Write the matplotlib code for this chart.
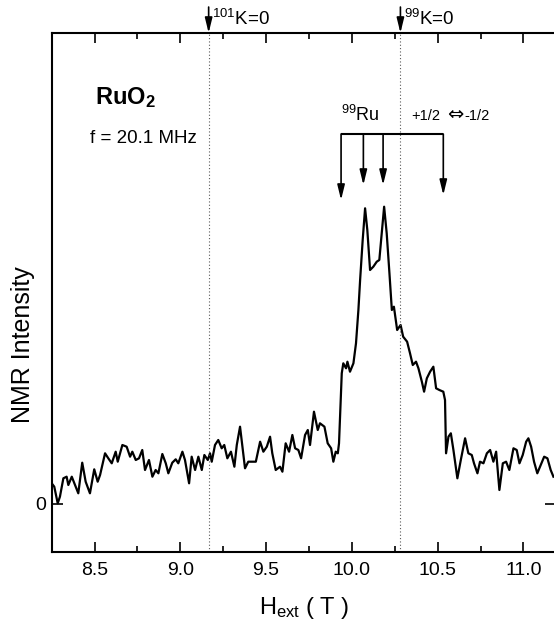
import matplotlib
matplotlib.use("Agg")
import matplotlib.pyplot as plt
from matplotlib.ticker import MultipleLocator, FixedLocator, FormatStrFormatter

plt.rcParams["font.family"] = ["Liberation Sans", "DejaVu Sans"]
plt.rcParams["mathtext.fontset"] = "custom"
plt.rcParams["mathtext.rm"] = "Liberation Sans"
plt.rcParams["mathtext.it"] = "Liberation Sans:italic"
plt.rcParams["mathtext.bf"] = "Liberation Sans:bold"

# spectrum (field in T, intensity in arbitrary units)
field = [
    8.250, 8.265, 8.285, 8.298, 8.318, 8.337, 8.347, 8.367, 8.386, 8.405,
    8.428, 8.448, 8.473, 8.498, 8.518, 8.532, 8.561, 8.580, 8.600, 8.623,
    8.635, 8.662, 8.687, 8.707, 8.720, 8.740, 8.759, 8.778, 8.794, 8.817,
    8.837, 8.856, 8.872, 8.895, 8.915, 8.930, 8.953, 8.973, 8.988, 9.012,
    9.027, 9.051, 9.066, 9.086, 9.105, 9.125, 9.140, 9.160, 9.173, 9.183,
    9.202, 9.221, 9.241, 9.256, 9.274, 9.295, 9.315, 9.329, 9.348, 9.361,
    9.377, 9.396, 9.420, 9.440, 9.465, 9.484, 9.504, 9.523, 9.536, 9.556,
    9.581, 9.595, 9.614, 9.634, 9.653, 9.669, 9.688, 9.704, 9.727, 9.743,
    9.756, 9.779, 9.801, 9.814, 9.840, 9.859, 9.879, 9.892, 9.906, 9.918,
    9.925, 9.941, 9.950, 9.966, 9.974, 9.989, 10.009, 10.024, 10.038, 10.048,
    10.063, 10.077, 10.090, 10.106, 10.125, 10.145, 10.160, 10.174, 10.188, 10.203,
    10.219, 10.233, 10.245, 10.264, 10.284, 10.299, 10.322, 10.339, 10.355, 10.374,
    10.388, 10.408, 10.421, 10.437, 10.456, 10.475, 10.491, 10.510, 10.533, 10.543,
    10.549, 10.563, 10.577, 10.592, 10.615, 10.635, 10.660, 10.679, 10.699, 10.712,
    10.732, 10.747, 10.767, 10.787, 10.806, 10.825, 10.841, 10.860, 10.880, 10.899,
    10.918, 10.942, 10.961, 10.977, 10.996, 11.016, 11.029, 11.045, 11.062, 11.081,
    11.101, 11.121, 11.140, 11.159, 11.175,
]
intensity = [
    0.207, 0.173, 0.007, 0.073, 0.257, 0.273, 0.190, 0.273, 0.190, 0.107,
    0.413, 0.223, 0.107, 0.347, 0.223, 0.290, 0.507, 0.457, 0.407, 0.523,
    0.423, 0.590, 0.573, 0.473, 0.523, 0.440, 0.457, 0.540, 0.340, 0.440,
    0.273, 0.340, 0.307, 0.500, 0.407, 0.307, 0.413, 0.447, 0.407, 0.523,
    0.440, 0.207, 0.473, 0.340, 0.473, 0.340, 0.490, 0.440, 0.507, 0.423,
    0.590, 0.640, 0.557, 0.590, 0.457, 0.523, 0.373, 0.590, 0.773, 0.590,
    0.357, 0.423, 0.423, 0.423, 0.623, 0.523, 0.573, 0.673, 0.507, 0.340,
    0.373, 0.323, 0.607, 0.523, 0.690, 0.557, 0.540, 0.457, 0.690, 0.740,
    0.590, 0.923, 0.740, 0.807, 0.773, 0.607, 0.557, 0.423, 0.523, 0.507,
    0.607, 1.307, 1.407, 1.357, 1.423, 1.323, 1.407, 1.607, 1.940, 2.240,
    2.640, 2.957, 2.740, 2.340, 2.373, 2.423, 2.440, 2.707, 2.973, 2.707,
    2.307, 1.940, 1.973, 1.740, 1.790, 1.673, 1.623, 1.507, 1.390, 1.423,
    1.357, 1.223, 1.123, 1.257, 1.323, 1.373, 1.157, 1.140, 1.123, 1.040,
    0.507, 0.673, 0.707, 0.540, 0.257, 0.440, 0.657, 0.507, 0.490, 0.407,
    0.307, 0.423, 0.407, 0.507, 0.540, 0.423, 0.523, 0.140, 0.407, 0.423,
    0.340, 0.557, 0.540, 0.407, 0.490, 0.623, 0.657, 0.573, 0.423, 0.307,
    0.390, 0.473, 0.457, 0.340, 0.273,
]

# zero-shift positions of the two isotopes
k0_fields = [9.165, 10.283]
k0_labels = ["$^{101}$K=0", "$^{99}$K=0"]

# expected 99Ru central-line positions (bracket with arrows)
line_fields = [9.937, 10.067, 10.182, 10.533]
line_tips = [3.04, 3.19, 3.19, 3.09]
bracket_level = 3.70

W, H = 554, 626
fig = plt.figure(figsize=(W / 100, H / 100), dpi=100)
ax = fig.add_axes([51.7 / W, 1 - 552 / H, (556 - 51.7) / W, (552 - 33) / H])

ax.plot(field, intensity, color="black", lw=1.6)
ax.set_xlim(8.25, 11.19)
ax.set_ylim(-0.48, 4.71)

for x in k0_fields:
    ax.axvline(x, color="0.35", ls=(0, (1, 2)), lw=0.8)

xt = ax.get_xaxis_transform()
arrow_kw = dict(arrowstyle="-|>,head_length=0.9,head_width=0.22", color="black",
                lw=1.2, mutation_scale=10, shrinkA=0, shrinkB=0)
for x, lab in zip(k0_fields, k0_labels):
    ax.annotate("", xy=(x, 1.0), xycoords=xt, xytext=(x, 1.05), textcoords=xt,
                arrowprops=arrow_kw, annotation_clip=False)
    ax.text(x + 0.02, 1.0155, lab, transform=xt, fontsize=13.5, va="baseline")

ax.plot([line_fields[0], line_fields[-1]], [bracket_level, bracket_level],
        color="black", lw=1.5, solid_capstyle="butt")
for x, tip in zip(line_fields, line_tips):
    ax.annotate("", xy=(x, tip), xytext=(x, bracket_level), arrowprops=arrow_kw)

ax.text(line_fields[0], 3.83, "$^{99}$Ru", fontsize=13, va="baseline")
ax.text(10.349, 3.84, "+1/2", fontsize=10.5, va="baseline")
ax.text(10.552, 3.84, "\u21d4", fontsize=14, va="baseline", family="DejaVu Sans")
ax.text(10.655, 3.84, "-1/2", fontsize=10.5, va="baseline")

ax.text(0.0853, 0.863, r"RuO$_{\mathbf{2}}$", transform=ax.transAxes,
        fontsize=17, fontweight="bold", va="baseline")
ax.text(0.076, 0.788, "f = 20.1 MHz", transform=ax.transAxes,
        fontsize=13.5, va="baseline")

ax.xaxis.set_major_locator(MultipleLocator(0.5))
ax.xaxis.set_minor_locator(MultipleLocator(0.25))
ax.yaxis.set_major_locator(FixedLocator([0]))
ax.xaxis.set_major_formatter(FormatStrFormatter("%.1f"))
ax.tick_params(which="both", direction="in", top=True, right=True, width=1.2,
               labelsize=14)
ax.tick_params(axis="x", which="major", length=7, pad=7)
ax.tick_params(axis="x", which="minor", length=4.5)
ax.tick_params(axis="y", length=8, pad=4)
for s in ax.spines.values():
    s.set_linewidth(1.5)

ax.set_xlabel(r"H$_{\mathrm{ext}}$ ( T )", fontsize=17, labelpad=12)
ax.set_ylabel("NMR Intensity", fontsize=18)
ax.yaxis.set_label_coords(-0.033, 0.40)

fig.savefig("out.png", dpi=100)
